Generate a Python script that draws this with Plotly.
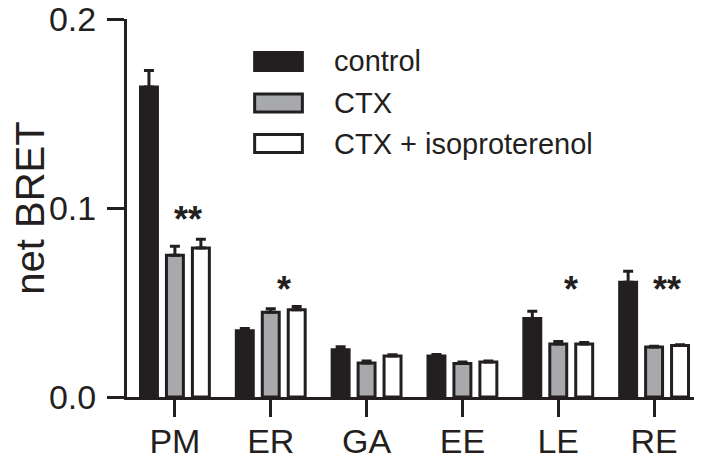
import plotly.graph_objects as go

# --- data ---
compartments = ["PM", "ER", "GA", "EE", "LE", "RE"]

control = [0.1640, 0.0350, 0.0250, 0.0217, 0.0416, 0.0607]
control_err = [0.0088, 0.0012, 0.0016, 0.0008, 0.0038, 0.0058]

ctx = [0.0750, 0.0448, 0.0180, 0.0177, 0.0280, 0.0264]
ctx_err = [0.0048, 0.0019, 0.0010, 0.0008, 0.0014, 0.0005]

ctx_iso = [0.0788, 0.0462, 0.0217, 0.0185, 0.0280, 0.0273]
ctx_iso_err = [0.0046, 0.0017, 0.0006, 0.0006, 0.0008, 0.0004]

star_labels = ["**", "*", "", "", "*", "**"]
star_levels = [0.094, 0.057, None, None, 0.057, 0.057]

series_names = ["control", "CTX", "CTX + isoproterenol"]

INK = "#231f20"
FONT = "Liberation Sans, Arial, sans-serif"
fills = [INK, "#a7a9ac", "#ffffff"]

fig = go.Figure()
for name, values, errs, fill in zip(
    series_names, [control, ctx, ctx_iso], [control_err, ctx_err, ctx_iso_err], fills
):
    fig.add_trace(
        go.Bar(
            x=compartments,
            y=values,
            name=name,
            marker=dict(color=fill, line=dict(color=INK, width=3)),
            error_y=dict(
                type="data",
                symmetric=False,
                array=errs,
                arrayminus=[0] * len(errs),
                color=INK,
                thickness=3,
                width=5,
            ),
            showlegend=False,
        )
    )

# significance marks, placed between the CTX and CTX + isoproterenol bars
for cat, label, level in zip(compartments, star_labels, star_levels):
    if not label:
        continue
    fig.add_annotation(
        x=cat, y=level, text=f"<b>{label}</b>", showarrow=False, xshift=13,
        yanchor="middle", font=dict(family=FONT, size=36, color=INK),
    )

# hand-drawn legend with large swatches like the original
legend_rows = [0.8876, 0.7778, 0.6706]
for name, fill, yc in zip(series_names, fills, legend_rows):
    fig.add_shape(
        type="rect", xref="paper", yref="paper",
        x0=0.222, x1=0.305, y0=yc - 0.024, y1=yc + 0.024,
        fillcolor=fill, line=dict(color=INK, width=3),
    )
    fig.add_annotation(
        xref="paper", yref="paper", x=0.356, y=yc, text=name, showarrow=False,
        xanchor="left", yanchor="middle", font=dict(family=FONT, size=29, color=INK),
    )

# the page body adds an 8px offset, so the figure is drawn 8px smaller
fig.update_layout(
    width=694,
    height=451,
    barmode="group",
    bargap=0.1875,
    bargroupgap=0.347,
    margin=dict(l=119, r=0, t=11, b=62),
    paper_bgcolor="white",
    plot_bgcolor="white",
    font=dict(family=FONT, color=INK),
)
fig.update_xaxes(
    range=[-0.5, 5.5],
    automargin=False,
    showline=True, linecolor=INK, linewidth=3,
    ticks="outside", ticklen=17, tickwidth=3, tickcolor=INK,
    tickfont=dict(size=34, color=INK),
    ticklabelstandoff=-5,
    ticklabeloverflow="allow",
    showgrid=False, zeroline=False,
)
fig.update_yaxes(
    range=[0, 0.2],
    automargin=False,
    tickvals=[0, 0.1, 0.2],
    ticktext=["0.0", "0.1", "0.2"],
    showline=True, linecolor=INK, linewidth=3,
    ticks="outside", ticklen=17, tickwidth=3, tickcolor=INK,
    tickfont=dict(size=34, color=INK),
    ticklabelstandoff=4,
    ticklabeloverflow="allow",
    title=dict(text="net BRET", font=dict(size=40, color=INK), standoff=17),
    showgrid=False, zeroline=False,
)

fig.write_html("out.html")
